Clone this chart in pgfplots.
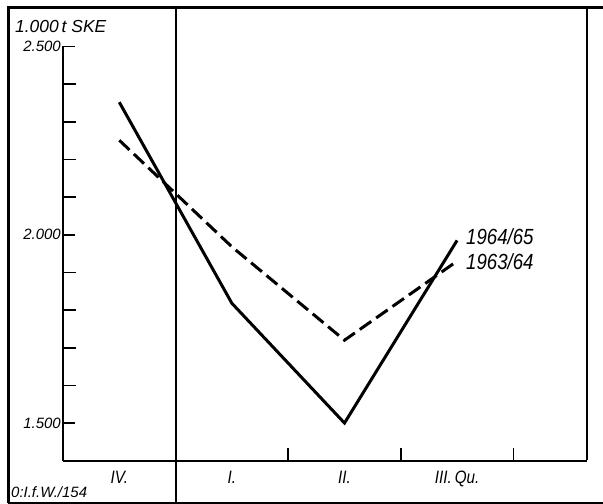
\documentclass[border=0pt]{standalone}
\usepackage{pgfplots}
\pgfplotsset{compat=1.18}
\usepackage{fontspec}
\setmainfont{Liberation Sans}
\newfontfamily\narrow{Liberation Sans}[FakeStretch=0.85]

\begin{document}
\begin{tikzpicture}[x=1bp,y=1bp]
\useasboundingbox (0,0) rectangle (603,504);
% frame
\draw[line width=3bp] (8,1) -- (8,496) -- (603,496);
\draw[line width=2bp] (8,1) -- (603,1);
\draw[line width=1.2bp] (176,1) -- (176,496);
\draw[line width=2.4bp] (587,44) -- (587,496);

\begin{axis}[
    at={(63bp,43.3bp)}, anchor=south west,
    scale only axis, width=524bp, height=414.2bp,
    xmin=-0.5, xmax=4.154, ymin=1400, ymax=2500,
    axis x line=bottom, axis y line=left,
    axis line style={-, line width=2bp},
    tick align=inside,
    xtick={0,1,2,3},
    xticklabels={IV.,I.,II.,III.\,Qu.},
    major x tick style={draw=none},
    minor xtick={1.5,2.5,3.5},
    ytick={1500,2000,2500},
    yticklabels={1.500,2.000,2.500},
    minor ytick={1600,1700,1800,1900,2100,2200,2300,2400},
    major tick length=12bp, minor tick length=13bp,
    every tick/.style={black, line width=1.6bp},
    xticklabel style={font=\narrow\fontsize{18}{18}\selectfont\itshape, inner sep=0pt, yshift=-10bp},
    yticklabel style={font=\fontsize{15}{15}\selectfont\itshape, inner sep=0pt, xshift=-2bp},
    clip=false,
]
% 1964/65
\addplot[black, line width=3bp, line join=miter] coordinates {
    (0,2352) (1,1818) (2,1500) (3,1985)
};
% 1963/64
\addplot[black, line width=3bp, dash pattern=on 14bp off 6bp] coordinates {
    (0,2251) (1,1968) (2,1720) (3,1930)
};
\end{axis}

\node[anchor=base west, font=\fontsize{17.5}{17.5}\selectfont\itshape, inner sep=0pt] at (15,471) {1.000\,t SKE};
\node[anchor=west, font=\narrow\fontsize{22}{22}\selectfont\itshape, inner sep=0pt] at (466,267) {1964/65};
\node[anchor=west, font=\narrow\fontsize{22}{22}\selectfont\itshape, inner sep=0pt] at (466,242) {1963/64};
\node[anchor=base west, font=\fontsize{15}{15}\selectfont\itshape, inner sep=0pt] at (11,6) {0:I.f.W./154};
\end{tikzpicture}
\end{document}
